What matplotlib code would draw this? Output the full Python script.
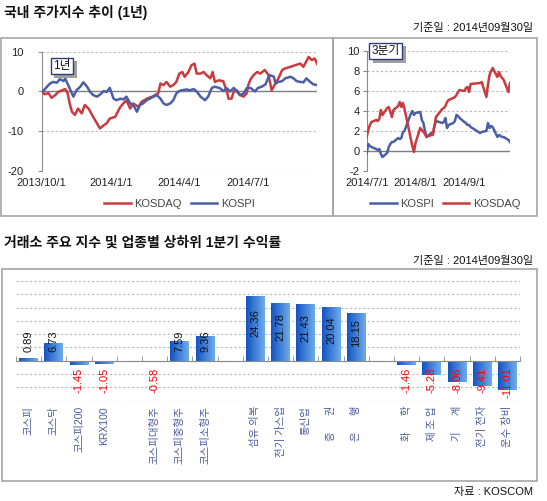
import matplotlib
matplotlib.use('Agg')
import matplotlib.pyplot as plt
import matplotlib.dates as mdates
import matplotlib.patheffects as pe
import numpy as np
import pandas as pd
from matplotlib.patches import Rectangle
from matplotlib.colors import LinearSegmentedColormap

plt.rcParams['font.family'] = ['Liberation Sans', 'Noto Sans CJK KR']
plt.rcParams['axes.unicode_minus'] = False

# ---------------- data ----------------
year_kosdaq_dates = [
    '2013-10-01', '2013-10-05', '2013-10-10', '2013-10-14', '2013-10-19', '2013-10-23', '2013-10-28',
    '2013-11-01', '2013-11-04', '2013-11-07', '2013-11-10', '2013-11-14', '2013-11-18', '2013-11-23',
    '2013-11-27', '2013-12-02', '2013-12-08', '2013-12-13', '2013-12-17', '2013-12-22', '2013-12-26',
    '2013-12-30', '2014-01-06', '2014-01-13', '2014-01-17', '2014-01-21', '2014-01-26', '2014-01-30',
    '2014-02-06', '2014-02-10', '2014-02-17', '2014-02-24', '2014-02-28', '2014-03-04', '2014-03-07',
    '2014-03-11', '2014-03-15', '2014-03-20', '2014-03-24', '2014-03-28', '2014-04-01', '2014-04-05',
    '2014-04-08', '2014-04-13', '2014-04-17', '2014-04-21', '2014-04-24', '2014-04-29', '2014-05-03',
    '2014-05-07', '2014-05-12', '2014-05-15', '2014-05-18', '2014-05-23', '2014-05-29', '2014-06-03',
    '2014-06-05', '2014-06-09', '2014-06-12', '2014-06-16', '2014-06-20', '2014-06-25', '2014-06-29',
    '2014-07-01', '2014-07-04', '2014-07-08', '2014-07-13', '2014-07-17', '2014-07-23', '2014-07-28',
    '2014-08-01', '2014-08-06', '2014-08-10', '2014-08-15', '2014-08-19', '2014-08-26', '2014-09-01',
    '2014-09-08', '2014-09-12', '2014-09-19', '2014-09-23', '2014-09-27', '2014-09-30']
year_kosdaq = [
    0.0, -0.7, -0.4, -1.6, -0.9, -0.1, 0.3,
    0.6, -0.2, -3.0, -5.1, -5.9, -4.3, -5.5,
    -3.4, -4.3, -6.4, -8.0, -9.3, -8.5, -8.0,
    -6.8, -6.4, -3.9, -3.0, -2.2, -4.3, -3.0,
    -3.9, -2.6, -1.8, -1.3, -0.9, -0.5, 2.0,
    1.6, 2.4, 1.2, 1.6, 2.4, 4.5, 4.9,
    3.7, 4.9, 6.6, 7.0, 4.5, 4.5, 4.9,
    4.1, 3.3, 4.9, 2.4, 2.8, 2.6, -0.1,
    -1.8, -1.8, 0.0, 0.3, -0.9, -1.3, -0.5,
    1.5, 3.0, 4.1, 4.9, 4.5, 5.4, 4.1,
    0.3, 2.0, 3.3, 5.4, 5.8, 6.2, 6.6,
    7.0, 6.2, 8.7, 7.9, 8.3, 7.0]

year_kospi_dates = [
    '2013-10-01', '2013-10-03', '2013-10-08', '2013-10-12', '2013-10-16', '2013-10-21', '2013-10-25',
    '2013-10-30', '2013-11-01', '2013-11-05', '2013-11-10', '2013-11-12', '2013-11-16', '2013-11-21',
    '2013-11-25', '2013-11-30', '2013-12-04', '2013-12-08', '2013-12-13', '2013-12-17', '2013-12-22',
    '2013-12-26', '2013-12-30', '2014-01-04', '2014-01-08', '2014-01-13', '2014-01-17', '2014-01-21',
    '2014-01-26', '2014-01-30', '2014-02-04', '2014-02-08', '2014-02-12', '2014-02-17', '2014-02-21',
    '2014-02-26', '2014-03-02', '2014-03-07', '2014-03-11', '2014-03-15', '2014-03-20', '2014-03-24',
    '2014-03-28', '2014-03-31', '2014-04-04', '2014-04-11', '2014-04-15', '2014-04-20', '2014-04-24',
    '2014-04-29', '2014-05-05', '2014-05-09', '2014-05-14', '2014-05-18', '2014-05-25', '2014-05-29',
    '2014-06-03', '2014-06-07', '2014-06-12', '2014-06-16', '2014-06-20', '2014-06-25', '2014-06-29',
    '2014-07-04', '2014-07-10', '2014-07-14', '2014-07-19', '2014-07-24', '2014-07-28', '2014-07-30',
    '2014-08-04', '2014-08-06', '2014-08-10', '2014-08-15', '2014-08-19', '2014-08-26', '2014-08-30',
    '2014-09-03', '2014-09-08', '2014-09-12', '2014-09-16', '2014-09-21', '2014-09-25', '2014-09-30']
year_kospi = [
    0.3, 0.1, 1.2, 2.0, 2.4, 2.2, 3.1,
    2.6, 3.3, 1.6, -0.5, -1.3, 0.3, 1.2,
    2.3, 1.2, -0.1, -0.9, -1.3, -0.8, 0.1,
    -0.1, 0.9, -1.8, -2.2, -1.8, -2.0, -1.3,
    -3.0, -3.4, -5.1, -3.4, -3.0, -2.2, -1.8,
    -1.3, -0.9, -1.8, -3.0, -3.4, -3.0, -2.2,
    -0.5, 0.0, 0.3, 0.5, 0.3, 0.6, 0.0,
    -1.3, -2.2, -1.3, 0.9, 1.2, 0.8, 0.1,
    0.8, 0.0, 0.9, 0.0, -0.9, -0.5, 0.8,
    0.9, 0.0, 0.9, 1.2, 1.8, 3.7, 4.1,
    3.7, 2.0, 2.4, 2.6, 3.3, 3.7, 3.3,
    2.6, 2.4, 2.3, 3.3, 2.4, 1.8, 1.6]

q3_dates = [
    '2014-07-01', '2014-07-02', '2014-07-03', '2014-07-04', '2014-07-07', '2014-07-08', '2014-07-09',
    '2014-07-10', '2014-07-11', '2014-07-14', '2014-07-15', '2014-07-16', '2014-07-17', '2014-07-18',
    '2014-07-21', '2014-07-22', '2014-07-23', '2014-07-24', '2014-07-25', '2014-07-28', '2014-07-29',
    '2014-07-30', '2014-07-31', '2014-08-01', '2014-08-04', '2014-08-05', '2014-08-06', '2014-08-07',
    '2014-08-08', '2014-08-11', '2014-08-12', '2014-08-13', '2014-08-14', '2014-08-18', '2014-08-19',
    '2014-08-20', '2014-08-21', '2014-08-22', '2014-08-25', '2014-08-26', '2014-08-27', '2014-08-28',
    '2014-08-29', '2014-09-01', '2014-09-02', '2014-09-03', '2014-09-04', '2014-09-05', '2014-09-11',
    '2014-09-12', '2014-09-15', '2014-09-16', '2014-09-17', '2014-09-18', '2014-09-19', '2014-09-22',
    '2014-09-23', '2014-09-24', '2014-09-25', '2014-09-26', '2014-09-29', '2014-09-30']
q3_kospi = [
    -0.2, 0.7, 0.5, 0.4, 0.2, 0.1, 0.2,
    -0.3, -0.6, -0.2, 0.4, 0.7, 0.9, 0.9,
    1.3, 1.2, 1.3, 1.9, 2.0, 3.3, 3.7,
    4.0, 3.6, 3.8, 3.9, 3.1, 2.8, 2.0,
    1.4, 1.8, 1.7, 2.5, 3.0, 2.8, 2.9,
    3.3, 2.3, 2.6, 2.8, 3.0, 3.6, 3.5,
    3.3, 2.9, 2.8, 2.6, 2.6, 2.4, 1.8,
    1.9, 2.0, 2.8, 2.3, 2.5, 2.4, 1.4,
    1.6, 1.5, 1.4, 1.4, 1.1, 0.9]
q3_kosdaq = [
    1.4, 2.1, 2.6, 2.9, 3.1, 3.0, 3.2,
    4.1, 3.6, 4.3, 4.4, 3.9, 3.4, 4.1,
    4.5, 4.9, 4.4, 4.8, 4.2, 2.0, 1.2,
    0.5, -0.1, 0.8, 2.3, 2.1, 1.9, 1.7,
    1.4, 1.6, 1.6, 2.5, 3.4, 4.2, 4.3,
    4.5, 4.9, 5.1, 5.3, 5.4, 5.6, 5.9,
    6.1, 6.0, 6.3, 6.4, 5.9, 6.7, 6.8,
    6.9, 5.4, 6.6, 7.6, 8.0, 8.3, 7.4,
    7.9, 7.5, 7.3, 7.1, 5.9, 6.8]

bar_categories = ['코스피', '코스닥', '코스피200', 'KRX100', None,
                  '코스피대형주', '코스피중형주', '코스피소형주', None,
                  '섬유 의복', '전기 가스업', '통신업', '증 \u3000 권', '은 \u3000 행', None,
                  '화 \u3000 학', '제 조 업', '기 \u3000 계', '전기 전자', '운수 장비']
bar_values = [0.89, 6.73, -1.45, -1.05, None,
              -0.58, 7.59, 9.36, None,
              24.36, 21.78, 21.43, 20.04, 18.15, None,
              -1.46, -5.28, -8.06, -9.41, -11.01]

# ---------------- figure ----------------
W, H = 547, 501
fig = plt.figure(figsize=(W / 100, H / 100), dpi=100)

def fx(x):
    return x / W

def fy(y):
    return 1 - y / H

def frame(x0, y0, x1, y1):
    fig.add_artist(Rectangle((fx(x0), fy(y1)), (x1 - x0) / W, (y1 - y0) / H,
                             transform=fig.transFigure, fill=False,
                             ec='#a6a6a6', lw=1.2))

frame(0.7, 37.7, 333, 216)
frame(333, 37.7, 537, 216)
frame(1.7, 269.3, 537, 480.7)

RED = '#c93b3f'
BLUE = '#4a5fa6'
GRID = '#b8b8b8'
AXC = '#8a8a8a'

fig.text(fx(4), fy(12), '국내 주가지수 추이 (1년)', fontsize=10, fontweight='bold',
         ha='left', va='center', color='#111111')
fig.text(fx(533), fy(28.5), '기준일 : 2014년09월30일', fontsize=8,
         ha='right', va='center', color='#111111')
fig.text(fx(4), fy(243), '거래소 주요 지수 및 업종별 상하위 1분기 수익률', fontsize=10,
         fontweight='bold', ha='left', va='center', color='#111111')
fig.text(fx(533), fy(261), '기준일 : 2014년09월30일', fontsize=8,
         ha='right', va='center', color='#111111')
fig.text(fx(533), fy(492.5), '자료 : KOSCOM', fontsize=8,
         ha='right', va='center', color='#111111')


def tag(ax, x, y, s):
    t = ax.text(x, y, s, transform=ax.transAxes, fontsize=8.5, ha='center', va='center',
                color='#111111', zorder=6,
                bbox=dict(boxstyle='square,pad=0.2', fc='white', ec='#2f3d7a', lw=1))
    t.get_bbox_patch().set_path_effects([
        pe.SimplePatchShadow(offset=(2.5, -2.5), shadow_rgbFace='#a0a0a0', alpha=1.0),
        pe.Normal()])


def style_line_axes(ax):
    for side in ['top', 'right', 'bottom']:
        ax.spines[side].set_visible(False)
    ax.spines['left'].set_color(AXC)
    ax.tick_params(axis='y', length=3, color=AXC, labelsize=8, labelcolor='#222222')
    ax.tick_params(axis='x', length=0, labelsize=8, labelcolor='#222222', pad=5)
    ax.grid(axis='y', linestyle=(0, (2, 2)), color=GRID, lw=0.8)
    ax.set_axisbelow(True)
    ax.axhline(0, color='#808080', lw=1.0, zorder=1)


def datefmt(d, pos=None):
    dt = mdates.num2date(d)
    return f'{dt.year}/{dt.month}/{dt.day}'

# ---- 1 year chart ----
ax1 = fig.add_axes([fx(41.7), fy(171), (317 - 41.7) / W, 119.3 / H])
style_line_axes(ax1)
ax1.plot(pd.to_datetime(year_kosdaq_dates), year_kosdaq, color=RED, lw=1.8,
         label='KOSDAQ', zorder=3)
ax1.plot(pd.to_datetime(year_kospi_dates), year_kospi, color=BLUE, lw=1.8,
         label='KOSPI', zorder=3)
ax1.set_ylim(-20, 10)
ax1.set_yticks([-20, -10, 0, 10])
ax1.tick_params(axis='y', pad=10)
ax1.set_xlim(pd.Timestamp('2013-10-01'), pd.Timestamp('2014-09-30'))
ax1.set_xticks(pd.to_datetime(['2013-10-01', '2014-01-01', '2014-04-01', '2014-07-01']))
ax1.xaxis.set_major_formatter(plt.FuncFormatter(datefmt))
tag(ax1, 0.074, 0.88, '1년')
h1, l1 = ax1.get_legend_handles_labels()
leg1 = ax1.legend(h1, l1, loc='center', bbox_to_anchor=(fx(179.5), fy(204)),
                  bbox_transform=fig.transFigure, ncol=2, frameon=False, fontsize=8,
                  handlelength=2.4, handletextpad=0.3, columnspacing=0.8)
for t in leg1.get_texts():
    t.set_color('#444444')

# ---- 3Q chart ----
ax2 = fig.add_axes([fx(366.7), fy(171), (510 - 366.7) / W, 120 / H])
style_line_axes(ax2)
qd = pd.to_datetime(q3_dates)
ax2.plot(qd, q3_kospi, color=BLUE, lw=1.8, label='KOSPI', zorder=3)
ax2.plot(qd, q3_kosdaq, color=RED, lw=1.8, label='KOSDAQ', zorder=3)
ax2.set_ylim(-2, 10)
ax2.set_yticks([-2, 0, 2, 4, 6, 8, 10])
ax2.tick_params(axis='y', pad=2)
ax2.set_xlim(pd.Timestamp('2014-07-01'), pd.Timestamp('2014-09-30'))
ax2.set_xticks(pd.to_datetime(['2014-07-01', '2014-08-01', '2014-09-01']))
ax2.xaxis.set_major_formatter(plt.FuncFormatter(datefmt))
for gl in ax2.get_ygridlines():
    if abs(gl.get_ydata()[0] + 2) < 1e-6:
        gl.set_visible(False)
tag(ax2, 0.1326, 1.0, '3분기')
h2, l2 = ax2.get_legend_handles_labels()
leg2 = ax2.legend(h2, l2, loc='center', bbox_to_anchor=(fx(445), fy(204)),
                  bbox_transform=fig.transFigure, ncol=2, frameon=False, fontsize=8,
                  handlelength=2.4, handletextpad=0.3, columnspacing=0.8)
for t in leg2.get_texts():
    t.set_color('#444444')

# ---- bar chart ----
ax3 = fig.add_axes([fx(16), fy(400.7), (520 - 16) / W, 119.7 / H])
n = len(bar_categories)
cmap = LinearSegmentedColormap.from_list('barg', ['#1454c2', '#6eaceb'])
grad = np.linspace(0, 1, 64).reshape(1, -1)
bw = 0.75
for i, (lab, v) in enumerate(zip(bar_categories, bar_values)):
    if lab is None:
        continue
    rect = ax3.bar(i, v, width=bw, color='none', edgecolor='none', zorder=2)[0]
    im = ax3.imshow(grad, extent=(i - bw / 2, i + bw / 2, min(0, v), max(0, v)),
                    cmap=cmap, aspect='auto', zorder=2, interpolation='bilinear')
    im.set_clip_path(rect)
    if v >= 0:
        ax3.text(i, max(0.58 * v, 7.2), f'{v:.2f}', rotation=90, ha='center', va='center',
                 fontsize=8, color='#111111', zorder=4)
    else:
        ax3.text(i, -2.5, f'{v:.2f}', rotation=90, ha='center', va='top',
                 fontsize=8, color='#ff0000', zorder=4)
    ax3.text(i, -0.044, lab, transform=ax3.get_xaxis_transform(), rotation=90,
             ha='center', va='top', fontsize=7.5, color='#4a5a9e')

ax3.set_xlim(-0.5, n - 0.5)
ax3.set_ylim(-15, 30)
ax3.set_yticks([-15, -10, -5, 0, 5, 10, 15, 20, 25, 30])
ax3.set_yticklabels([])
ax3.tick_params(axis='y', length=0)
ax3.grid(axis='y', linestyle=(0, (2, 2)), color=GRID, lw=0.8)
ax3.set_axisbelow(True)
for side in ['top', 'right', 'left']:
    ax3.spines[side].set_visible(False)
ax3.spines['bottom'].set_position(('data', 0))
ax3.spines['bottom'].set_color('#8a8a8a')
ax3.spines['bottom'].set_zorder(3)
ax3.set_xticks([])
ax3.set_xticks(np.arange(-0.5, n, 1.0), minor=True)
ax3.tick_params(axis='x', which='minor', direction='in', length=3.5, color='#8a8a8a')

fig.savefig('out.png', dpi=100)
